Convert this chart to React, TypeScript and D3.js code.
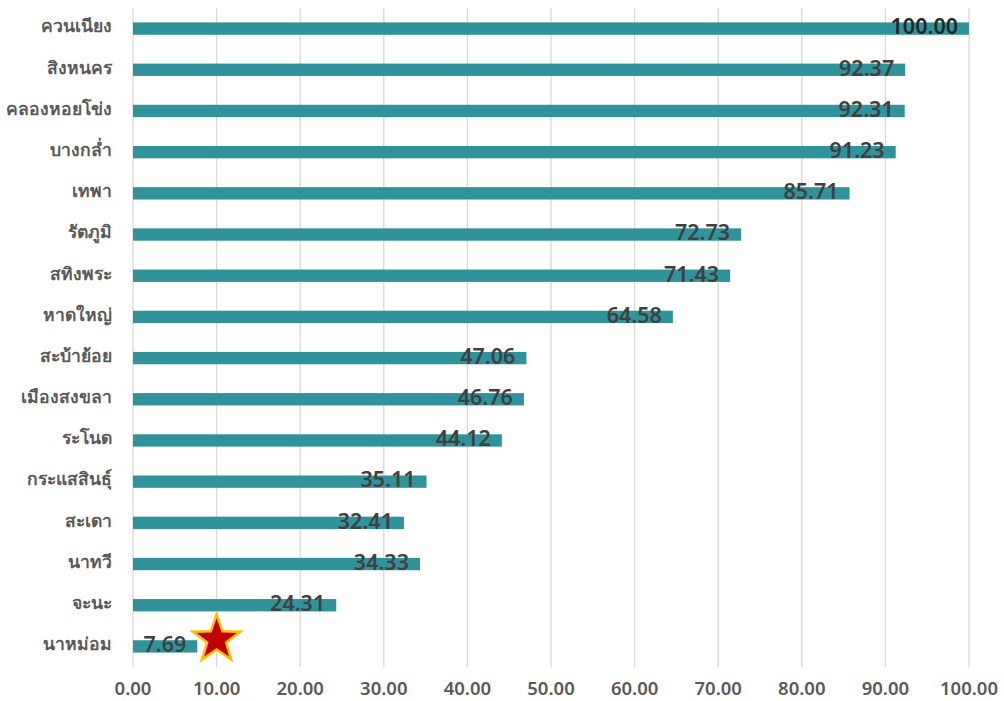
import React from 'react';
import * as d3 from 'd3';

const categories = [
  'ควนเนียง', 'สิงหนคร', 'คลองหอยโข่ง', 'บางกล่ำ', 'เทพา', 'รัตภูมิ', 'สทิงพระ', 'หาดใหญ่',
  'สะบ้าย้อย', 'เมืองสงขลา', 'ระโนด', 'กระแสสินธุ์', 'สะเดา', 'นาทวี', 'จะนะ', 'นาหม่อม',
];
const values = [
  100.0, 92.37, 92.31, 91.23, 85.71, 72.73, 71.43, 64.58,
  47.06, 46.76, 44.12, 35.11, 32.41, 34.33, 24.31, 7.69,
];
const xTicks = [0, 10, 20, 30, 40, 50, 60, 70, 80, 90, 100];
const starValue = 10;
const starCategory = 'นาหม่อม';

const width = 1004;
const height = 701;
const margin = { top: 8, right: 35, bottom: 34, left: 133 };
const font = '"Noto Sans", "DejaVu Sans", sans-serif';

const starPath = (cx: number, cy: number, rOuter: number, rInner: number) => {
  const pts: string[] = [];
  for (let i = 0; i < 10; i++) {
    const r = i % 2 === 0 ? rOuter : rInner;
    const a = -Math.PI / 2 + (i * Math.PI) / 5;
    pts.push(`${cx + r * Math.cos(a)},${cy + r * Math.sin(a)}`);
  }
  return `M${pts.join('L')}Z`;
};

const App: React.FC = () => {
  const x = d3
    .scaleLinear()
    .domain([0, 100])
    .range([margin.left, width - margin.right]);
  const y = d3
    .scaleBand<string>()
    .domain(categories)
    .range([margin.top, height - margin.bottom])
    .paddingInner(0.7)
    .paddingOuter(0.35);

  const bw = y.bandwidth();
  const starY = (y(starCategory) ?? 0) + bw / 2 - 7;

  return (
    <svg
      width={width}
      height={height}
      style={{ position: 'absolute', left: 0, top: 0, background: '#fff' }}
    >
      {/* gridlines */}
      {xTicks.map((t) => (
        <line
          key={t}
          x1={x(t)}
          x2={x(t)}
          y1={margin.top}
          y2={height - margin.bottom}
          stroke="#d9d9d9"
          strokeWidth={1.3}
        />
      ))}

      {/* bars */}
      {categories.map((c, i) => (
        <rect
          key={c}
          x={x(0)}
          y={y(c)}
          width={x(values[i]) - x(0)}
          height={bw}
          fill="#31939a"
        />
      ))}

      {/* value labels */}
      {categories.map((c, i) => (
        <text
          key={c}
          x={x(values[i]) - 11}
          y={(y(c) ?? 0) + bw / 2}
          textAnchor="end"
          dominantBaseline="middle"
          fontFamily={font}
          fontWeight={600}
          fontSize={21.5}
          fill={i === 0 ? '#262626' : '#404040'}
        >
          {values[i].toFixed(2)}
        </text>
      ))}

      {/* category labels */}
      {categories.map((c) => (
        <text
          key={c}
          x={112}
          y={(y(c) ?? 0) + bw / 2 - 1}
          textAnchor="end"
          dominantBaseline="middle"
          fontFamily={font}
          fontWeight="bold"
          fontSize={17.5}
          fill="#595959"
        >
          {c}
        </text>
      ))}

      {/* x tick labels */}
      {xTicks.map((t) => (
        <text
          key={t}
          x={x(t)}
          y={690}
          textAnchor="middle"
          dominantBaseline="middle"
          fontFamily={font}
          fontWeight={600}
          fontSize={18.5}
          fill="#595959"
        >
          {t.toFixed(2)}
        </text>
      ))}

      {/* star marker */}
      <path
        d={starPath(x(starValue), starY, 25, 10)}
        fill="#c00000"
        stroke="#ffc000"
        strokeWidth={2.5}
        strokeLinejoin="miter"
      />
    </svg>
  );
};

export default App;
